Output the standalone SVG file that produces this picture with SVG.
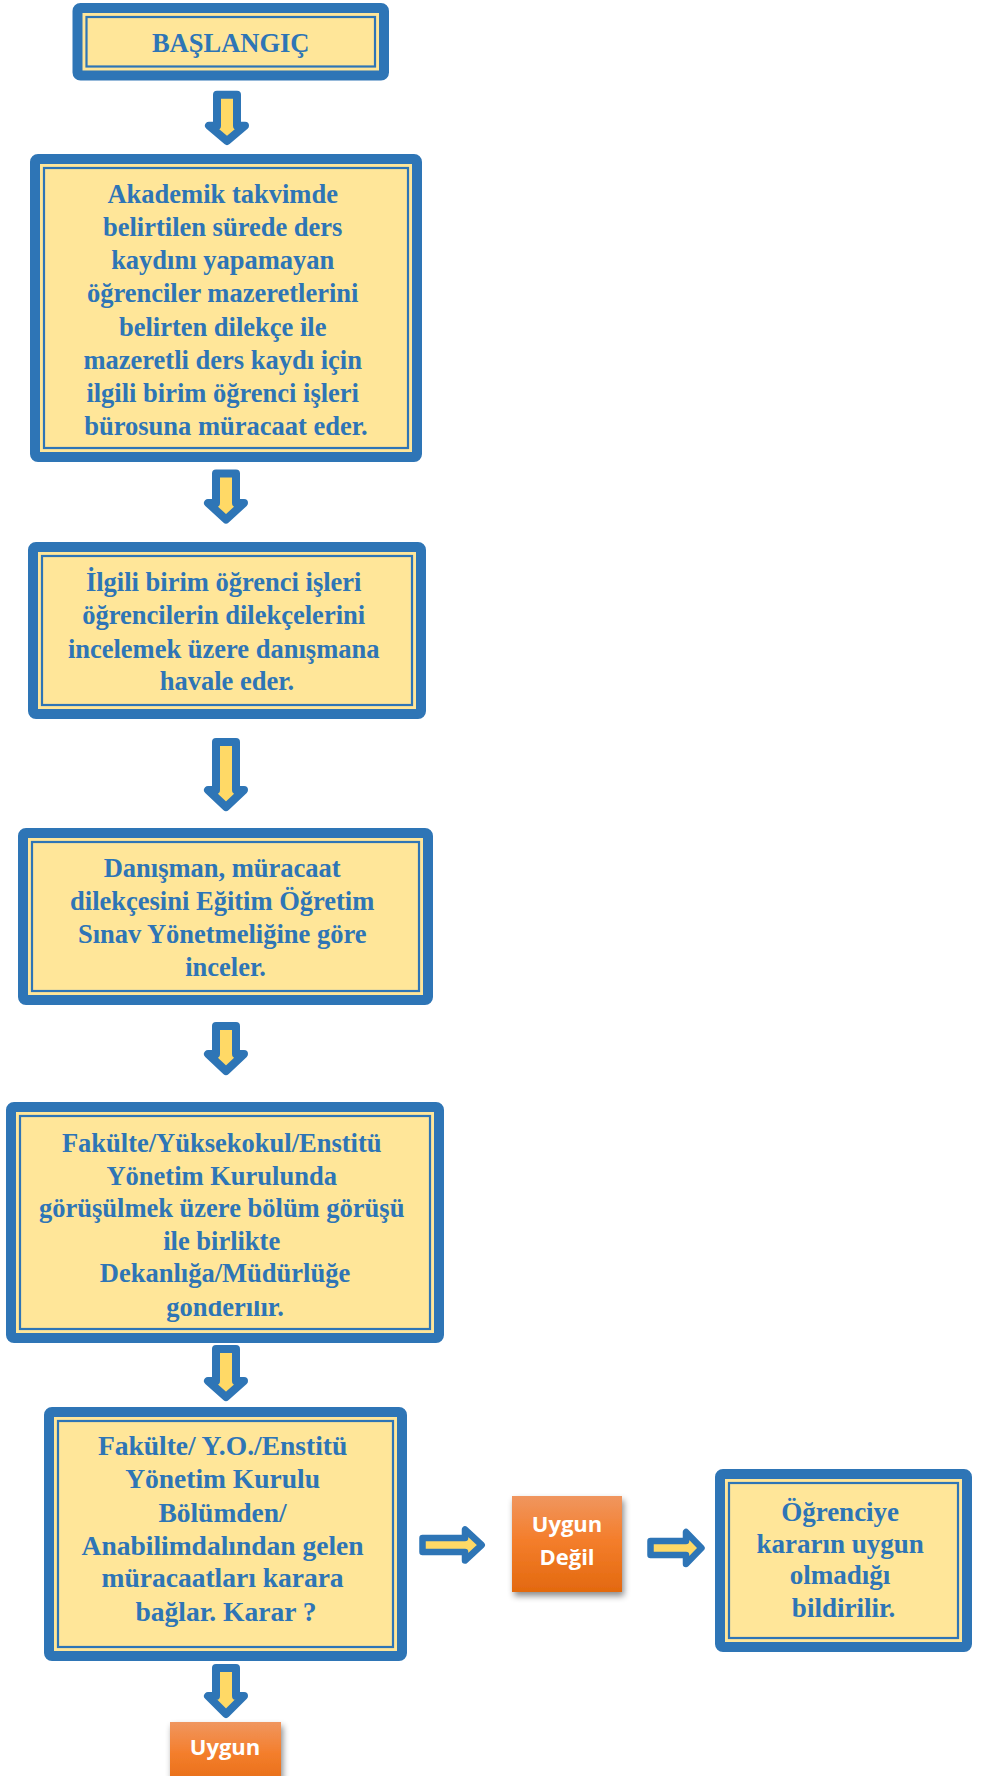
<svg xmlns="http://www.w3.org/2000/svg" width="987" height="1776" viewBox="0 0 987 1776">
<defs>
<style>
.ob{fill:#FFE699;stroke:#2E75B6;stroke-width:10;stroke-linejoin:round}
.ib{fill:none;stroke:#2E75B6;stroke-width:2.2}
.t{font-family:"Liberation Serif","Times New Roman",serif;font-weight:bold;fill:#2E75B6;text-anchor:middle}
.arr{fill:#FFD966;stroke:#2E75B6;stroke-width:8;stroke-linejoin:round}
.harr{fill:#FFD966;stroke:#2E75B6;stroke-width:6.5;stroke-linejoin:round}
.ot{font-family:"Open Sans","Liberation Sans",sans-serif;font-weight:bold;fill:#FFFFFF;text-anchor:middle;font-size:22px}
</style>
<linearGradient id="og" x1="0" y1="0" x2="0" y2="1">
<stop offset="0" stop-color="#F0965F"/>
<stop offset="0.45" stop-color="#F47E2C"/>
<stop offset="1" stop-color="#E3690F"/>
</linearGradient>
<filter id="sh" x="-20%" y="-20%" width="150%" height="150%">
<feDropShadow dx="2" dy="4" stdDeviation="3" flood-color="#000" flood-opacity="0.45"/>
</filter>
<clipPath id="clip5"><rect x="10" y="1301" width="430" height="28"/></clipPath>
</defs>

<g id="connectors">
<path class="arr" d="M217,94.7 H237 V125.7 H245 L227,141 L209,125.7 H217 Z"/>
<path class="arr" d="M216,473.5 H236 V503 H244 L226,519.5 L208,503 H216 Z"/>
<path class="arr" d="M216,742 H236 V790 H244 L226,807 L208,790 H216 Z"/>
<path class="arr" d="M216,1026 H236 V1054 H244 L226,1071 L208,1054 H216 Z"/>
<path class="arr" d="M216,1349 H236 V1381 H244 L226,1397 L208,1381 H216 Z"/>
<path class="arr" d="M216,1668 H236 V1696 H244 L226,1714 L208,1696 H216 Z"/>
<path class="harr" d="M422.5,1538 V1552 H465 V1560.5 L481.7,1545 L465,1529.5 V1538 Z"/>
<path class="harr" d="M650.5,1541 V1555 H686 V1564 L701.5,1548 L686,1532 V1541 Z"/>
</g>

<g id="start">
<rect class="ob" x="77.5" y="8" width="306.5" height="67.5" rx="3"/>
<rect class="ib" x="86.5" y="17" width="288.5" height="49.5"/>
<text class="t" x="230.7" y="52.3" font-size="26.5">BAŞLANGIÇ</text>
</g>

<g id="step1">
<rect class="ob" x="35" y="159" width="382" height="298" rx="3"/>
<rect class="ib" x="44" y="168" width="364" height="280"/>
<text class="t" font-size="26.5">
<tspan x="226" y="202.7">Akademik takvimde</tspan>
<tspan x="226" y="235.9">belirtilen sürede ders</tspan>
<tspan x="226" y="269.1">kaydını yapamayan</tspan>
<tspan x="226" y="302.3">öğrenciler mazeretlerini</tspan>
<tspan x="226" y="335.5">belirten dilekçe ile</tspan>
<tspan x="226" y="368.7">mazeretli ders kaydı için</tspan>
<tspan x="226" y="401.9">ilgili birim öğrenci işleri</tspan>
<tspan x="226" y="435.1">bürosuna müracaat eder.</tspan>
</text>
</g>

<g id="step2">
<rect class="ob" x="33" y="547" width="388" height="167" rx="3"/>
<rect class="ib" x="42" y="556" width="370" height="149"/>
<text class="t" font-size="26.5">
<tspan x="227" y="591">İlgili birim öğrenci işleri</tspan>
<tspan x="227" y="624">öğrencilerin dilekçelerini</tspan>
<tspan x="227" y="657.5">incelemek üzere danışmana</tspan>
<tspan x="227" y="690">havale eder.</tspan>
</text>
</g>

<g id="step3">
<rect class="ob" x="23" y="833" width="405" height="167" rx="3"/>
<rect class="ib" x="32" y="842" width="387" height="149"/>
<text class="t" font-size="26.5">
<tspan x="225.5" y="877">Danışman, müracaat</tspan>
<tspan x="225.5" y="910">dilekçesini Eğitim Öğretim</tspan>
<tspan x="225.5" y="943">Sınav Yönetmeliğine göre</tspan>
<tspan x="225.5" y="976">inceler.</tspan>
</text>
</g>

<g id="step4">
<rect class="ob" x="11" y="1107" width="428" height="231" rx="3"/>
<rect class="ib" x="20" y="1116" width="410" height="213"/>
<text class="t" font-size="26.5">
<tspan x="225" y="1152">Fakülte/Yüksekokul/Enstitü</tspan>
<tspan x="225" y="1184.5">Yönetim Kurulunda</tspan>
<tspan x="225" y="1217">görüşülmek üzere bölüm görüşü</tspan>
<tspan x="225" y="1249.5">ile birlikte</tspan>
<tspan x="225" y="1282">Dekanlığa/Müdürlüğe</tspan>
</text>
<text class="t" font-size="26.5" x="225" y="1316" clip-path="url(#clip5)">gönderilir.</text>
</g>

<g id="step5">
<rect class="ob" x="49" y="1412" width="353" height="244" rx="3"/>
<rect class="ib" x="58" y="1421" width="335" height="226"/>
<text class="t" font-size="27.5">
<tspan x="226" y="1455">Fakülte/ Y.O./Enstitü</tspan>
<tspan x="226" y="1488">Yönetim Kurulu</tspan>
<tspan x="226" y="1522">Bölümden/</tspan>
<tspan x="226" y="1555">Anabilimdalından gelen</tspan>
<tspan x="226" y="1587">müracaatları karara</tspan>
<tspan x="226" y="1621">bağlar. Karar ?</tspan>
</text>
</g>

<g id="notok">
<rect x="512" y="1496" width="110" height="96" fill="url(#og)" filter="url(#sh)"/>
<text class="ot"><tspan x="567" y="1531.7">Uygun</tspan><tspan x="567" y="1565">Değil</tspan></text>
</g>

<g id="notify">
<rect class="ob" x="720" y="1474" width="247" height="173" rx="3"/>
<rect class="ib" x="729" y="1483" width="229" height="155"/>
<text class="t" font-size="27">
<tspan x="843.5" y="1521">Öğrenciye</tspan>
<tspan x="843.5" y="1552.5">kararın uygun</tspan>
<tspan x="843.5" y="1584">olmadığı</tspan>
<tspan x="843.5" y="1617">bildirilir.</tspan>
</text>
</g>

<g id="ok">
<rect x="170" y="1722" width="111" height="70" fill="url(#og)" filter="url(#sh)"/>
<text class="ot" x="225" y="1755">Uygun</text>
</g>
</svg>
